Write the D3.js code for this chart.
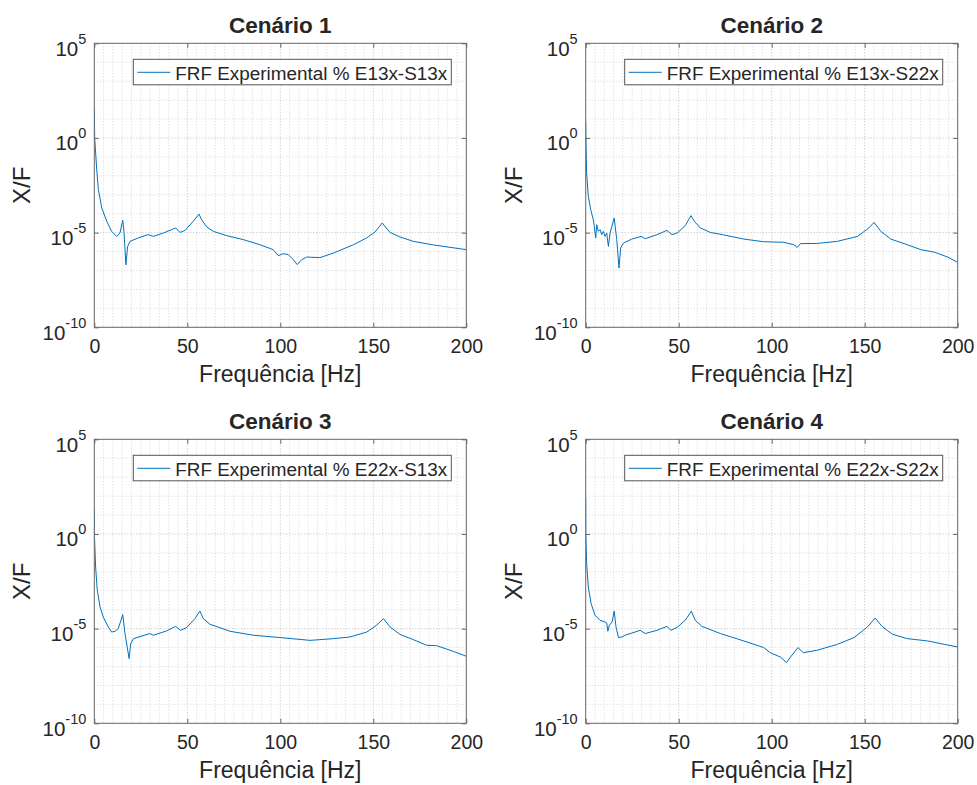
<!DOCTYPE html>
<html>
<head>
<meta charset="utf-8">
<script src="https://cdn.jsdelivr.net/npm/d3@7"></script>
<style>
  body { margin: 0; background: #fff; }
  text { font-family: "Liberation Sans", Arial, Helvetica, sans-serif; fill: #262626; }
</style>
</head>
<body>
<svg id="chart" width="977" height="785"></svg>
<script>
// values: frequency [Hz] and log10(X/F)
const f1 = [0, 0.2, 1.3, 2.2, 4.0, 6.7, 9.3, 12.0, 13.8, 15.3, 16.0, 17.0, 17.9, 19.2, 23.7, 29.0, 31.7, 37.1, 41.6, 43.8, 46.1, 48.8, 53.2, 56.3, 57.7, 60.4, 64.0, 71.2, 80.1, 89.1, 96.2, 98.9, 101.6, 104.3, 107.0, 109.1, 111.5, 114.2, 121.3, 128.5, 139.3, 146.4, 150.9, 154.8, 159.0, 164.4, 171.5, 182.3, 193.0, 200];
const logX1 = [1.64, 0, -1.67, -2.73, -3.7, -4.4, -4.93, -5.2, -5.02, -4.35, -5.0, -6.7, -5.73, -5.46, -5.28, -5.1, -5.2, -5.02, -4.84, -4.75, -4.99, -4.88, -4.4, -4.02, -4.32, -4.7, -4.93, -5.16, -5.37, -5.64, -5.9, -6.22, -6.11, -6.16, -6.43, -6.69, -6.43, -6.29, -6.32, -6.08, -5.64, -5.28, -4.97, -4.49, -4.99, -5.23, -5.46, -5.65, -5.8, -5.9];

const f2 = [0, 0.1, 0.5, 1.4, 2.7, 4.1, 4.6, 5.4, 5.9, 6.8, 7.7, 8.6, 9.5, 10.4, 11.3, 12.2, 13.1, 15.3, 16.7, 17.9, 18.8, 20.3, 24.8, 29.8, 32.0, 38.3, 43.7, 46.4, 49.1, 53.5, 56.6, 58.4, 61.6, 67.0, 74.2, 85.0, 95.7, 106.5, 111.9, 113.7, 115.5, 124.5, 135.3, 146.1, 152.3, 155.0, 158.7, 164.0, 173.0, 180.2, 187.4, 194.6, 200];
const logX2 = [0.88, 0, -1.85, -3.08, -3.79, -4.32, -4.67, -5.28, -4.58, -4.93, -4.84, -5.11, -4.93, -5.2, -5.02, -5.73, -5.02, -4.23, -5.37, -6.87, -5.81, -5.55, -5.34, -5.2, -5.32, -5.11, -4.88, -5.11, -5.02, -4.63, -4.1, -4.4, -4.75, -4.99, -5.12, -5.34, -5.48, -5.51, -5.64, -5.78, -5.58, -5.57, -5.46, -5.2, -4.75, -4.46, -4.93, -5.34, -5.64, -5.9, -6.03, -6.29, -6.57];

const f3 = [0, 0.05, 0.7, 1.6, 3.1, 4.8, 7.5, 9.3, 11.1, 12.9, 15.3, 16.5, 18.7, 19.6, 21.0, 29.9, 31.7, 38.9, 43.7, 46.4, 49.7, 54.1, 56.8, 58.6, 62.2, 73.0, 85.5, 99.8, 116.0, 128.5, 137.5, 146.5, 151.8, 155.4, 159.0, 164.4, 171.5, 178.7, 184.1, 193.0, 200];
const logX3 = [1.39, 0, -1.74, -2.97, -3.86, -4.38, -4.91, -5.18, -5.14, -5.0, -4.26, -5.26, -6.58, -5.79, -5.53, -5.26, -5.35, -5.12, -4.88, -5.09, -4.94, -4.47, -4.07, -4.47, -4.77, -5.14, -5.35, -5.47, -5.62, -5.53, -5.44, -5.18, -4.82, -4.47, -4.91, -5.31, -5.58, -5.88, -5.9, -6.2, -6.46];

const f4 = [0, 0.05, 0.5, 1.4, 2.9, 5.0, 7.7, 10.4, 11.3, 11.9, 12.7, 14.2, 15.3, 16.3, 17.6, 19.4, 21.2, 29.3, 32.0, 38.3, 43.7, 45.8, 49.1, 53.5, 56.8, 58.9, 62.5, 72.4, 85.0, 95.7, 99.4, 104.7, 108.0, 110.1, 114.1, 117.0, 124.5, 135.3, 144.3, 151.5, 155.6, 159.6, 165.0, 173.0, 183.8, 192.8, 200];
const logX4 = [1.94, 0, -1.56, -2.8, -3.68, -4.29, -4.56, -4.65, -4.7, -5.14, -4.82, -4.65, -4.07, -4.91, -5.47, -5.44, -5.35, -5.09, -5.26, -5.09, -4.88, -5.09, -4.94, -4.56, -4.08, -4.56, -4.88, -5.26, -5.65, -6.0, -6.28, -6.5, -6.79, -6.5, -6.0, -6.27, -6.14, -5.83, -5.47, -4.91, -4.44, -4.91, -5.3, -5.53, -5.65, -5.83, -5.97];

const titles = ['Cenário 1', 'Cenário 2', 'Cenário 3', 'Cenário 4'];
const legends = ['FRF Experimental % E13x-S13x', 'FRF Experimental % E13x-S22x',
                 'FRF Experimental % E22x-S13x', 'FRF Experimental % E22x-S22x'];
const xTicks = [0, 50, 100, 150, 200];
const yTicks = [1e-10, 1e-5, 1, 1e5];
const yExp = ['-10', '-5', '0', '5'];

const series = [[f1, logX1], [f2, logX2], [f3, logX3], [f4, logX4]];

const svg = d3.select('#chart');
const width = 372, height = 284;
const lefts = [94.3, 585.7], tops = [43.3, 439.3];

const x = d3.scaleLinear().domain([0, 200]).range([0, width]);
const y = d3.scaleLog().domain([1e-10, 1e5]).range([height, 0]);

const line = d3.line()
    .x(d => x(d.f))
    .y(d => y(d.v));

series.forEach(([freq, logs], i) => {
    const rows = freq.map((f, j) => ({ f: f, v: Math.pow(10, logs[j]) }));
    const left = lefts[i % 2], top = tops[Math.floor(i / 2)];
    const g = svg.append('g').attr('transform', `translate(${left},${top})`);

    g.append('clipPath').attr('id', 'clip' + i)
        .append('rect').attr('width', width).attr('height', height);

    // minor grid
    const minorX = d3.range(5, 200, 5).filter(v => v % 50 !== 0);
    const minorY = d3.range(-9, 5).filter(v => v % 5 !== 0).map(e => Math.pow(10, e));
    g.append('g').selectAll('line').data(minorX).join('line')
        .attr('x1', d => x(d)).attr('x2', d => x(d))
        .attr('y1', 0).attr('y2', height)
        .attr('stroke', '#d6d6d6').attr('stroke-dasharray', '1,2');
    g.append('g').selectAll('line').data(minorY).join('line')
        .attr('x1', 0).attr('x2', width)
        .attr('y1', d => y(d)).attr('y2', d => y(d))
        .attr('stroke', '#d6d6d6').attr('stroke-dasharray', '1,2');

    // major grid
    g.append('g').selectAll('line').data([50, 100, 150]).join('line')
        .attr('x1', d => x(d)).attr('x2', d => x(d))
        .attr('y1', 0).attr('y2', height)
        .attr('stroke', '#bdbdbd').attr('stroke-dasharray', '1,2');
    g.append('g').selectAll('line').data([1e-5, 1]).join('line')
        .attr('x1', 0).attr('x2', width)
        .attr('y1', d => y(d)).attr('y2', d => y(d))
        .attr('stroke', '#bdbdbd').attr('stroke-dasharray', '1,2');

    // curve
    g.append('path')
        .datum(rows)
        .attr('clip-path', `url(#clip${i})`)
        .attr('fill', 'none')
        .attr('stroke', '#0072BD')
        .attr('stroke-width', 1)
        .attr('d', line);

    // axes (ticks pointing inward, box on)
    const xAxis = g.append('g')
        .attr('transform', `translate(0,${height})`)
        .call(d3.axisBottom(x).tickValues(xTicks).tickSizeInner(-4.5).tickSizeOuter(0).tickPadding(12));
    xAxis.select('.domain').remove();
    xAxis.selectAll('.tick line').attr('stroke', '#666');
    xAxis.selectAll('.tick text').attr('font-size', 19.5).attr('fill', '#262626')
        .attr('font-family', '"Liberation Sans", Arial, sans-serif');

    const topAxis = g.append('g')
        .call(d3.axisTop(x).tickValues(xTicks).tickSizeInner(-4.5).tickSizeOuter(0).tickFormat(''));
    topAxis.select('.domain').remove();
    topAxis.selectAll('.tick line').attr('stroke', '#666');

    const yAxis = g.append('g')
        .call(d3.axisLeft(y).tickValues(yTicks).tickSizeInner(-4.5).tickSizeOuter(0).tickFormat(''));
    yAxis.select('.domain').remove();
    yAxis.selectAll('.tick line').attr('stroke', '#666');
    yAxis.selectAll('.tick text').remove();
    yAxis.selectAll('.tick').each(function (d, k) {
        const t = d3.select(this).append('text')
            .attr('text-anchor', 'end')
            .attr('x', -8)
            .attr('y', 12)
            .attr('font-size', 20.5)
            .attr('fill', '#262626');
        t.append('tspan').text('10');
        t.append('tspan').attr('dy', -12).attr('font-size', 14.5).text(yExp[k]);
    });

    const rightAxis = g.append('g')
        .attr('transform', `translate(${width},0)`)
        .call(d3.axisRight(y).tickValues(yTicks).tickSizeInner(-4.5).tickSizeOuter(0).tickFormat(''));
    rightAxis.select('.domain').remove();
    rightAxis.selectAll('.tick line').attr('stroke', '#666');

    g.append('rect')
        .attr('width', width).attr('height', height)
        .attr('fill', 'none').attr('stroke', '#666').attr('stroke-width', 1);

    // legend
    const lg = g.append('g').attr('transform', 'translate(39,16)');
    lg.append('rect')
        .attr('width', 318).attr('height', 25.5)
        .attr('fill', '#fff').attr('stroke', '#555').attr('stroke-width', 1);
    lg.append('line')
        .attr('x1', 4).attr('x2', 37).attr('y1', 13).attr('y2', 13)
        .attr('stroke', '#0072BD').attr('stroke-width', 1);
    lg.append('text')
        .attr('x', 42).attr('y', 20.5)
        .attr('font-size', 18.9)
        .attr('fill', '#111')
        .text(legends[i]);

    // labels
    g.append('text')
        .attr('x', width / 2).attr('y', -10)
        .attr('text-anchor', 'middle')
        .attr('font-size', 22.5).attr('font-weight', 'bold')
        .attr('fill', '#000')
        .text(titles[i]);
    g.append('text')
        .attr('x', width / 2).attr('y', height + 55)
        .attr('text-anchor', 'middle')
        .attr('font-size', 23)
        .text('Frequência [Hz]');
    g.append('text')
        .attr('transform', `translate(${-64},${height / 2}) rotate(-90)`)
        .attr('text-anchor', 'middle')
        .attr('font-size', 24)
        .text('X/F');
});
</script>
</body>
</html>
